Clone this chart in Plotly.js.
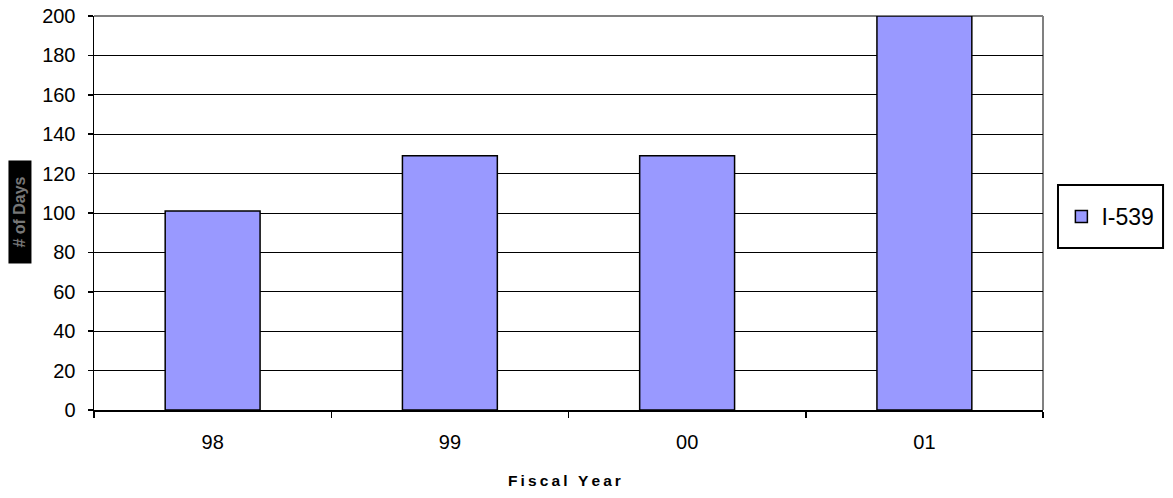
<!DOCTYPE html>
<html>
<head>
<meta charset="utf-8">
<script src="https://cdn.plot.ly/plotly-3.0.1.min.js"></script>
<style>html,body{margin:0;padding:0;background:#fff;}#chart{width:1173px;height:498px;}</style>
</head>
<body>
<div id="chart"></div>
<script>
const categories = ['98', '99', '00', '01'];
const seriesName = 'I-539';
const daysValues = [101, 129, 129, 200];
const yTickValues = [0, 20, 40, 60, 80, 100, 120, 140, 160, 180, 200];
const xTitleText = 'Fiscal Year';
const yTitleText = '# of Days';

const FONT = 'Arial, "Liberation Sans", sans-serif';
const spaced = s => s.split('').join('\u2009');

const trace = {
  type: 'bar',
  x: categories,
  y: daysValues,
  name: seriesName,
  width: 0.4,
  marker: {color: '#9999FF', line: {color: '#000000', width: 1.5}},
  showlegend: true,
  hoverinfo: 'x+y'
};

const layout = {
  width: 1173,
  height: 498,
  margin: {l: 94, r: 130, t: 16, b: 88},
  paper_bgcolor: '#ffffff',
  plot_bgcolor: '#ffffff',
  font: {family: FONT, color: '#000000', size: 20},
  bargap: 0.6,
  xaxis: {
    type: 'category',
    range: [-0.5, 3.5],
    showline: true, linecolor: '#000000', linewidth: 1.5,
    ticks: 'outside', tickson: 'boundaries', ticklen: 6, tickcolor: '#000000', tickwidth: 1.5,
    showgrid: false, zeroline: false,
    tickfont: {family: FONT, size: 20, color: '#000000'},
    ticklabelstandoff: 13
  },
  yaxis: {
    range: [0, 200],
    tickvals: yTickValues,
    showline: true, linecolor: '#000000', linewidth: 1.5,
    ticks: 'outside', ticklen: 5, tickcolor: '#000000', tickwidth: 1.5,
    showgrid: true, gridcolor: '#000000', gridwidth: 1,
    zeroline: false,
    tickfont: {family: FONT, size: 20, color: '#000000'},
    ticklabelstandoff: 8
  },
  showlegend: true,
  legend: {
    x: 1.071, xanchor: 'center',
    y: 0.491, yanchor: 'middle',
    bgcolor: 'rgba(0,0,0,0)',
    borderwidth: 0,
    font: {family: FONT, size: 23, color: '#000000'}
  },
  shapes: [
    {type: 'line', xref: 'paper', yref: 'paper', x0: 0, x1: 1, y0: 1, y1: 1, line: {color: '#808080', width: 2}, layer: 'below'},
    {type: 'line', xref: 'paper', yref: 'paper', x0: 1, x1: 1, y0: 0, y1: 1, line: {color: '#808080', width: 2}, layer: 'below'},
    {type: 'rect', xref: 'paper', yref: 'paper', x0: 1.0158, x1: 1.1265, y0: 0.411, y1: 0.571, line: {color: '#000000', width: 2}}
  ],
  annotations: [
    {text: '<b>' + spaced(xTitleText) + '</b>', xref: 'paper', yref: 'paper', x: 0.4963, y: -0.178,
     xanchor: 'center', yanchor: 'middle', showarrow: false, font: {family: FONT, size: 15.5, color: '#000000'}},
    {text: '<b>' + yTitleText + '</b>', xref: 'paper', yref: 'paper', x: -0.078, y: 0.5025,
     xanchor: 'center', yanchor: 'middle', showarrow: false, textangle: -90,
     bgcolor: '#000000', width: 100, height: 20, borderpad: 1,
     font: {family: FONT, size: 16, color: '#777777'}}
  ]
};

Plotly.newPlot('chart', [trace], layout, {displayModeBar: false, staticPlot: true});
</script>
</body>
</html>
